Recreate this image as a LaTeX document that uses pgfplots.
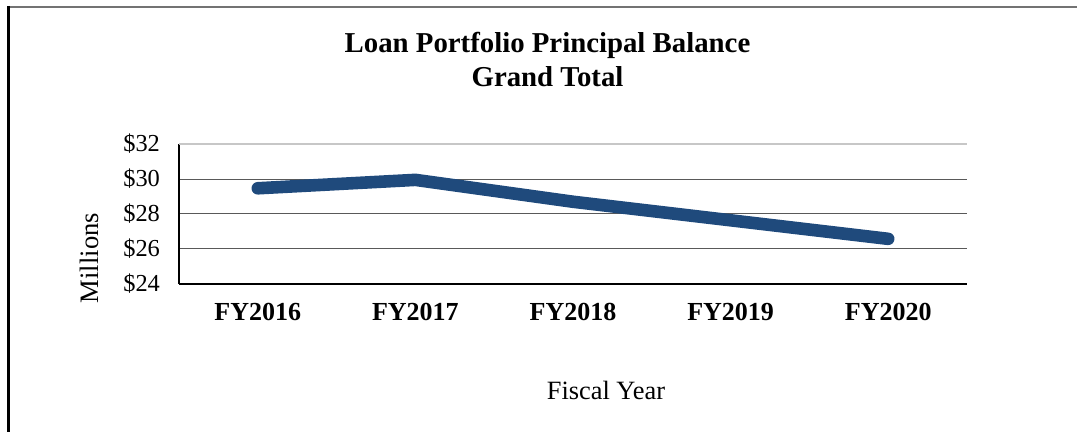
\documentclass[border=0pt]{standalone}
\usepackage{pgfplots}
\pgfplotsset{compat=1.18}
\usepackage{fontspec}
\setmainfont{Liberation Serif}
\definecolor{loanblue}{HTML}{1F4A7C}
\definecolor{gridgray}{HTML}{595959}

\begin{document}
\begin{tikzpicture}
% page frame (1px = 0.5pt)
\path[use as bounding box] (-89.5pt,-74pt) rectangle (449pt,142pt);
\draw[black!55, line width=0.8pt] (-85.25pt,138.5pt) -- (449pt,138.5pt);
\draw[black, line width=1.1pt] (-85.25pt,139pt) -- (-85.25pt,-74pt);
\begin{axis}[
  at={(0pt,0pt)}, anchor=origin,
  scale only axis, width=394pt, height=70pt,
  xmin=0, xmax=5, ymin=24, ymax=32,
  axis x line*=bottom, axis y line*=left,
  axis line style={black, line width=0.6pt, -},
  major tick length=0pt,
  xtick={0.5,1.5,2.5,3.5,4.5},
  xticklabels={FY2016,FY2017,FY2018,FY2019,FY2020},
  xticklabel style={font=\fontsize{13}{15}\selectfont\bfseries, yshift=-6pt},
  ytick={24,26,28,30},
  yticklabels={\$24,\$26,\$28,\$30},
  extra y ticks={32}, extra y tick labels={\$32},
  extra y tick style={major grid style={draw=black!22, line width=0.8pt}},
  yticklabel style={font=\fontsize{12.2}{14}\selectfont, xshift=-6pt},
  ymajorgrids, major grid style={draw=gridgray, line width=0.5pt},
  clip=false,
]
\addplot[loanblue, line width=6.3pt, line cap=round, line join=round] coordinates {
  (0.5,29.47) (1.5,29.95) (2.5,28.70) (3.5,27.64) (4.5,26.58)
};
\end{axis}
\node[font=\fontsize{14.4}{17}\selectfont\bfseries, align=center] at (184.25pt,112pt)
  {Loan Portfolio Principal Balance\\Grand Total};
\node[font=\fontsize{13.3}{15}\selectfont, rotate=90] at (-45pt,13pt) {Millions};
\node[font=\fontsize{13.2}{15}\selectfont] at (213.5pt,-53pt) {Fiscal Year};
\end{tikzpicture}
\end{document}
